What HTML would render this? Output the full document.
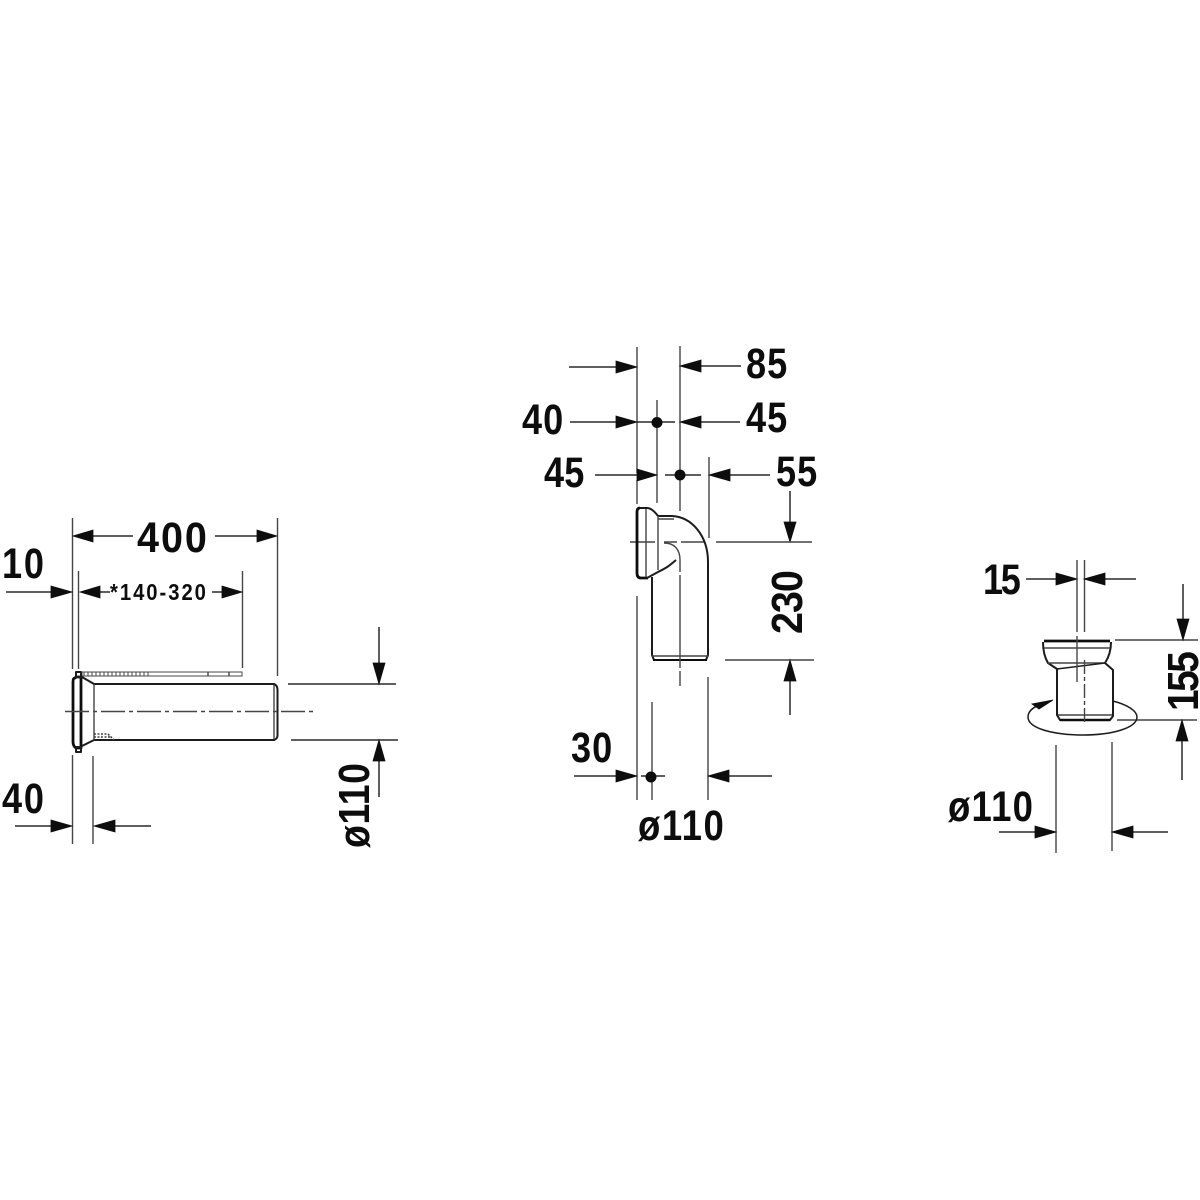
<!DOCTYPE html>
<html>
<head>
<meta charset="utf-8">
<style>
html,body{margin:0;padding:0;background:#fff;}
svg{display:block;}
text{font-family:"Liberation Sans",sans-serif;font-weight:bold;fill:#111;}
.l{stroke:#2a2a2a;stroke-width:1.5;fill:none;}
.g{stroke:#444;stroke-width:1.4;fill:none;}
.p{stroke:#1a1a1a;stroke-width:2;fill:none;stroke-linejoin:round;}
.t{stroke:#111;stroke-width:2.8;fill:none;stroke-linejoin:round;}
.a{fill:#111;stroke:#111;stroke-width:.8;}
</style>
</head>
<body>
<svg width="1200" height="1200" viewBox="0 0 1200 1200" xmlns="http://www.w3.org/2000/svg">
<rect width="1200" height="1200" fill="#fff"/>
<defs><filter id="b" x="0" y="0" width="100%" height="100%"><feGaussianBlur stdDeviation="0.35"/></filter></defs>
<g filter="url(#b)">

<!-- LEFT FIGURE -->
<path class="g" d="M72.5 518V669M78.5 571V669M242.5 571V668M277.5 518V676"/>
<path class="l" d="M93 536H133M215 536H257M6 592H51M100 592H110M212 592H222"/>
<path class="a" d="M73 536L93 530V542ZM277 536L257 530V542ZM72 592L51 586V598ZM80 592L100 586V598ZM242 592L222 586V598Z"/>
<text transform="translate(137,552) scale(.92,1)" font-size="43" textLength="76" lengthAdjust="spacing">400</text>
<text transform="translate(2,578) scale(.84,1)" font-size="43" textLength="50" lengthAdjust="spacing">10</text>
<text transform="translate(110,600) scale(.88,1)" font-size="23" textLength="109" lengthAdjust="spacing">*140-320</text>
<text transform="translate(2,813) scale(.84,1)" font-size="43" textLength="50" lengthAdjust="spacing">40</text>

<!-- left scale strip -->
<rect x="82" y="672" width="160" height="4" fill="none" stroke="#444" stroke-width="1"/>
<path d="M83 674H150" stroke="#555" stroke-width="3" stroke-dasharray="2 2" fill="none" opacity=".55"/>
<path class="g" d="M208 672V676M229 672V676"/>

<!-- left part -->
<path class="t" d="M75 678Q73 678 73 682V742Q73 746 76 748H81V677H76Z"/>
<rect x="76" y="672" width="5" height="5" class="p"/>
<rect x="76" y="747" width="5" height="5" class="p"/>
<path class="p" d="M82 677L94 684H274Q277 685 277.5 689V736Q277 739 274 740H94L82 746"/>
<path class="g" d="M94 684V740M274 685V739"/>
<path d="M94 734H108L114 740M94 737H110" stroke="#444" stroke-width="1.6" stroke-dasharray="2 1.5" fill="none"/>
<path class="g" d="M65 711.5H314" stroke-dasharray="24 4 4 4"/>

<!-- left right dims -->
<path class="l" d="M288 684H396M291 740H398M379 627V665M379 759V797"/>
<path class="a" d="M379 684L373 663H385ZM379 740L373 761H385Z"/>
<text transform="translate(369,848) rotate(-90) scale(.85,1)" font-size="44" textLength="100" lengthAdjust="spacing">ø110</text>

<!-- left bottom dims -->
<path class="g" d="M72.5 755V844M93 756V844"/>
<path class="l" d="M15 826H52M114 826H151"/>
<path class="a" d="M72 826L51 820V832ZM94 826L115 820V832Z"/>

<!-- MIDDLE FIGURE -->
<path class="g" d="M637 347V473M637 480V504M680 346V511M657 400V503M709 457V538M637 596V800M652 702V800M708 677V800"/>
<path class="l" d="M569 367H618M701 366H741M570 422H618M637 422H675M701 422H740M595 475H638M665 475H701M730 475H770M790 491V523"/>
<path class="a" d="M637 367L616 361V373ZM680 366L701 360V372ZM637 422L616 416V428ZM680 422L701 416V428ZM657 475L637 469V481ZM709 475L730 469V481ZM790 542L784 522H796Z"/>
<circle cx="657" cy="422.500" r="5.500" fill="#111"/>
<circle cx="680" cy="475" r="5.500" fill="#111"/>
<text transform="translate(746,378) scale(.84,1)" font-size="43" textLength="49" lengthAdjust="spacing">85</text>
<text transform="translate(522,434) scale(.84,1)" font-size="43" textLength="49" lengthAdjust="spacing">40</text>
<text transform="translate(746,432) scale(.84,1)" font-size="43" textLength="49" lengthAdjust="spacing">45</text>
<text transform="translate(544,487) scale(.84,1)" font-size="43" textLength="48" lengthAdjust="spacing">45</text>
<text transform="translate(776,486) scale(.84,1)" font-size="43" textLength="49" lengthAdjust="spacing">55</text>
<path class="g" d="M716 542H812M630 542H655M664 542H677M681 542H705"/>
<!-- elbow -->
<path class="t" d="M640 508Q637 508 637 512V573Q637 578 641 578H648"/>
<path class="p" d="M640 508H647Q652 508 658 516"/>
<path class="p" d="M647 578L658 572C666 568 668 567 676 560"/>
<path class="p" d="M658 516H672C692 517 708 536 708 562V655L706 660H654L652 655V577"/>
<path class="g" d="M646 509V577M658 516V570M658 519H674M652 656H708"/>
<path class="t" d="M653 660H707" style="stroke-width:2"/>
<path class="g" d="M664 543C674 543 680 549 680 560V572M680 575V668M680 671V686"/>
<!-- middle dims -->
<path class="g" d="M725 660H814"/>
<path class="l" d="M790 680V715"/>
<path class="a" d="M790 660L784 681H796Z"/>
<text transform="translate(802,634) rotate(-90) scale(.9,1)" font-size="44" textLength="71" lengthAdjust="spacing">230</text>
<path class="l" d="M574 776H618M641 776H665M729 776H772"/>
<path class="a" d="M637 776L616 770V782ZM708 776L729 770V782Z"/>
<circle cx="651" cy="777" r="5.500" fill="#111"/>
<text transform="translate(571,762) scale(.84,1)" font-size="43" textLength="49" lengthAdjust="spacing">30</text>
<text transform="translate(638,840) scale(.85,1)" font-size="43" textLength="101" lengthAdjust="spacing">ø110</text>

<!-- RIGHT FIGURE -->
<path class="g" d="M1077 560V632M1084.500 560V632M1117 720H1197M1115 640H1198M1056 745V853M1112 742V851"/>
<path class="l" d="M1026 579H1058M1105 579H1136M1183 584V621M1182 740V780M999 832H1036M1133 832H1168"/>
<path class="a" d="M1077 579L1056 573V585ZM1084 579L1105 573V585ZM1183 640L1177 619H1189ZM1182 720L1176 741H1188ZM1056 832L1035 826V838ZM1112 832L1133 826V838Z"/>
<text transform="translate(983,594) scale(.84,1)" font-size="43" textLength="45" lengthAdjust="spacing">15</text>
<text transform="translate(948,821) scale(.85,1)" font-size="43" textLength="100" lengthAdjust="spacing">ø110</text>
<text transform="translate(1198,711) rotate(-90) scale(.88,1)" font-size="44" textLength="68" lengthAdjust="spacing">155</text>
<!-- right part -->
<path class="t" d="M1044 641H1110" style="stroke-width:2.8"/>
<path class="p" d="M1043 642C1043 652 1045 658 1048 663L1057 669V715L1060 720H1110L1113 716V670L1105 663C1109 657 1111 650 1111 642"/>
<path class="g" d="M1044 648H1110M1048 663H1105"/>
<path class="p" d="M1057 669L1105 663" style="stroke-width:1.4"/>
<path class="g" d="M1058 715H1112"/>
<path class="t" d="M1060 720H1110" style="stroke-width:2.400"/>
<path class="g" d="M1077 636V682"/>
<path class="g" d="M1084.500 660V725" stroke-dasharray="14 3 4 3"/>
<path class="p" d="M1113 701C1128 705 1137 711 1137 717C1137 728 1112 735 1083 735C1052 735 1028 728 1028 717C1028 712 1032 708 1039 705" style="stroke-width:1.500"/>
<path class="a" d="M1053 700L1032 704L1039 709Z"/>
</g>
</svg>
</body>
</html>
